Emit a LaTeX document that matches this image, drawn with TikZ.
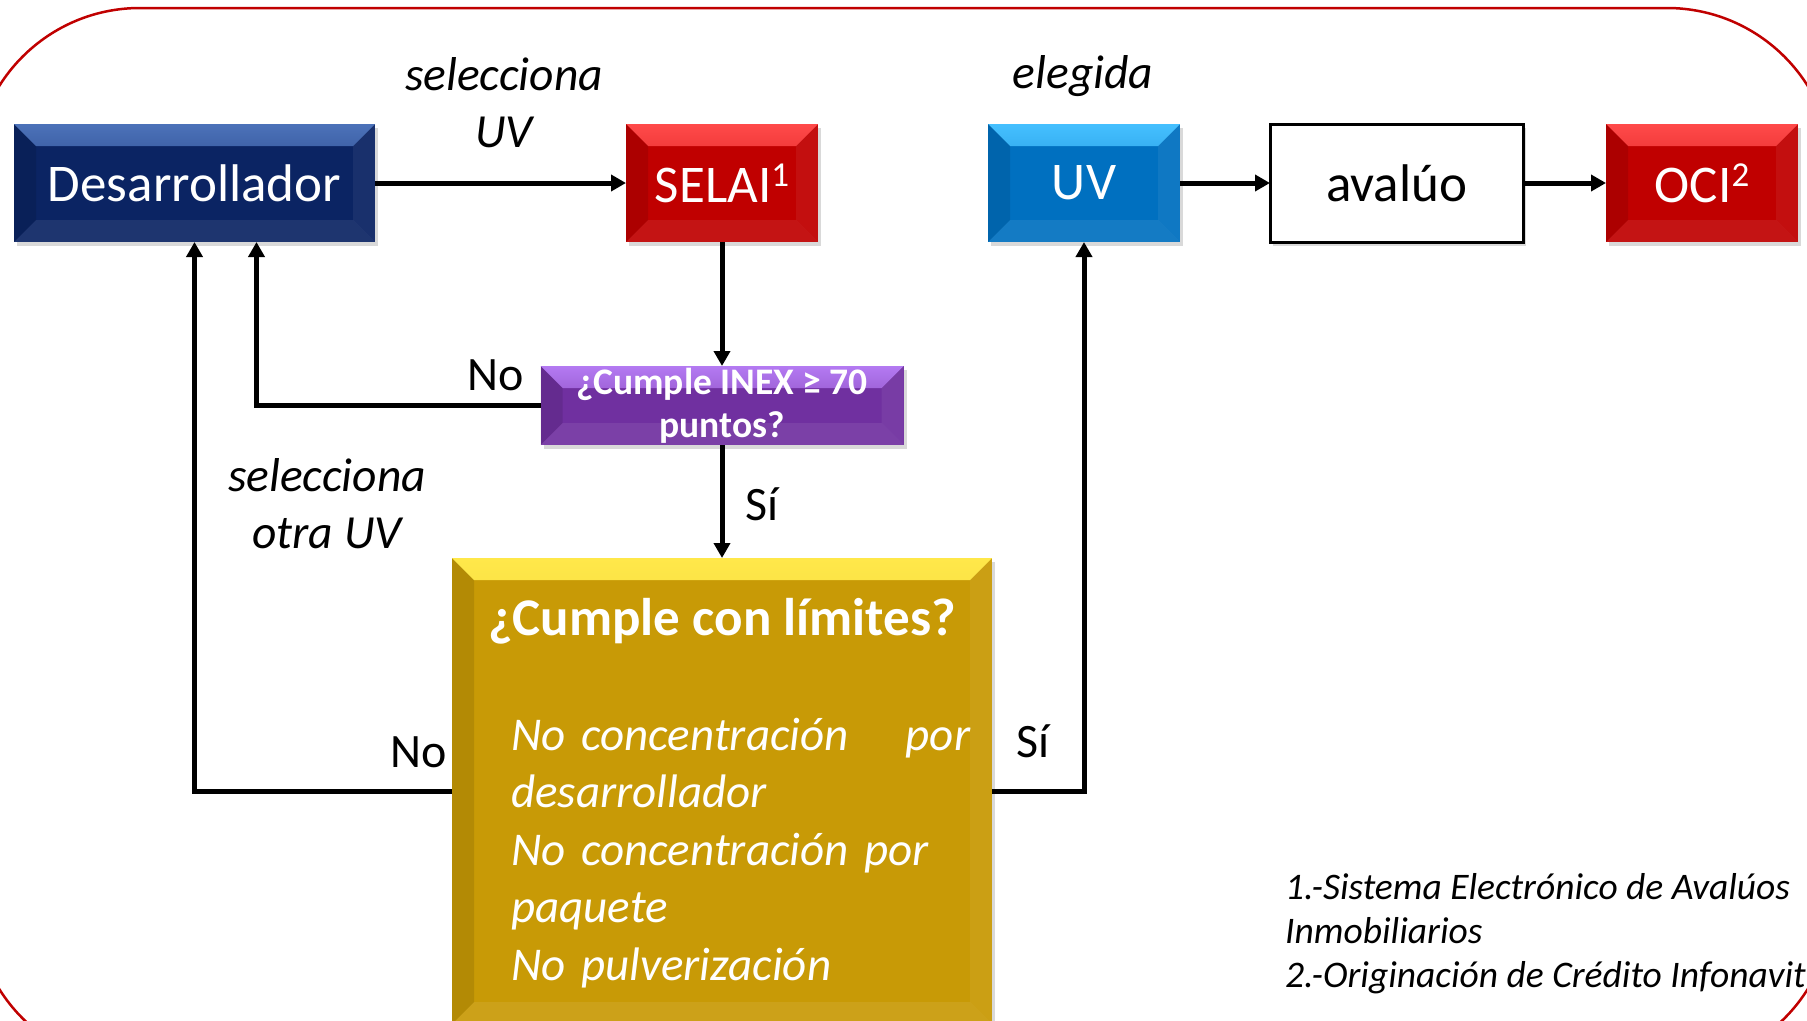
\documentclass[tikz,border=0pt]{standalone}
\usepackage{fontspec}
\setmainfont{Carlito}
\usetikzlibrary{positioning,arrows.meta,shadows}

\definecolor{navyface}{HTML}{0B2463}
\definecolor{navytop}{HTML}{4C72B9}
\definecolor{redface}{HTML}{C00000}
\definecolor{redtop}{HTML}{FF4A4A}
\definecolor{blueface}{HTML}{0070C0}
\definecolor{bluetop}{HTML}{45C0FF}
\definecolor{purpleface}{HTML}{7030A0}
\definecolor{purpletop}{HTML}{B47AF2}
\definecolor{goldface}{HTML}{C89A06}
\definecolor{goldtop}{HTML}{FFE84A}
\definecolor{framered}{HTML}{C00000}

\newcommand{\bw}{22pt}
\newcommand{\supnum}[1]{\raisebox{16pt}{\fontsize{35}{35}\selectfont #1}}

\tikzset{
  bevel/.style 2 args={fill=#1, path picture={
      \shade[top color=#2, bottom color=#1]
        (path picture bounding box.north west) -- (path picture bounding box.north east)
        -- ([xshift=-\bw,yshift=-\bw]path picture bounding box.north east)
        -- ([xshift=\bw,yshift=-\bw]path picture bounding box.north west) -- cycle;
      \fill[white, opacity=0.08]
        (path picture bounding box.south west) -- (path picture bounding box.south east)
        -- ([xshift=-\bw,yshift=\bw]path picture bounding box.south east)
        -- ([xshift=\bw,yshift=\bw]path picture bounding box.south west) -- cycle;
      \fill[black, opacity=0.1]
        (path picture bounding box.north west) -- ([xshift=\bw,yshift=-\bw]path picture bounding box.north west)
        -- ([xshift=\bw,yshift=\bw]path picture bounding box.south west)
        -- (path picture bounding box.south west) -- cycle;
      \fill[white, opacity=0.06]
        (path picture bounding box.north east) -- ([xshift=-\bw,yshift=-\bw]path picture bounding box.north east)
        -- ([xshift=-\bw,yshift=\bw]path picture bounding box.south east)
        -- (path picture bounding box.south east) -- cycle;
  }},
  box/.style={minimum height=118pt, inner sep=0pt, outer sep=0pt, text=white,
    font=\fontsize{53}{62}\selectfont,
    drop shadow={shadow xshift=3pt, shadow yshift=-4pt, opacity=0.3}},
  conn/.style={-{Triangle[length=15pt,width=16pt]}, line width=5pt},
  tag/.style={inner sep=0pt, font=\fontsize{48}{57}\selectfont},
  note/.style={inner sep=0pt, align=center, font=\fontsize{47.5}{56.5}\selectfont\itshape},
}

\begin{document}
\begin{tikzpicture}[x=1pt, y=-1pt]
  \useasboundingbox (0,0) rectangle (1807,1020);
  \draw[framered, line width=2.5pt, rounded corners=166pt] (-26,8) rectangle (1833,1067);

  % top row
  \node (desarrollador) [box, bevel={navyface}{navytop}, minimum width=361pt] at (194.5,183) {Desarrollador};
  \node (selai) [box, bevel={redface}{redtop}, minimum width=192pt, right=251pt of desarrollador] {SELAI\supnum{1}};
  \node (uv) [box, bevel={blueface}{bluetop}, minimum width=192pt, right=170pt of selai] {UV};
  \node (avaluo) [box, fill=white, draw=black, line width=3pt, text=black, minimum width=253pt, right=90pt of uv] {avalúo};
  \node (oci) [box, bevel={redface}{redtop}, minimum width=192pt, right=83pt of avaluo] {OCI\supnum{2}};

  % checks
  \node (inex) [box, bevel={purpleface}{purpletop}, minimum width=363pt, minimum height=79pt,
    align=center, font=\fontsize{37.5}{43}\selectfont\bfseries, below=124pt of selai] {¿Cumple INEX ≥ 70\\puntos?};
  \node (limites) [box, bevel={goldface}{goldtop}, minimum width=540pt, minimum height=466pt, below=113pt of inex] {};
  \node (limtitulo) [inner sep=0pt, anchor=base, text=white, font=\fontsize{53}{62}\selectfont\bfseries]
    at ([yshift=-77pt]limites.north) {¿Cumple con límites?};
  \node (limlista) [inner sep=0pt, anchor=base west, text=white, text width=459pt, align=left,
    font=\fontsize{47}{57.5}\selectfont\itshape] at ([xshift=59pt,yshift=-192pt]limites.north west)
    {No concentración\hfill por\\desarrollador\\No concentración por\\paquete\\No pulverización};

  % connectors
  \draw[conn] (desarrollador) -- (selai);
  \draw[conn] (selai) -- (inex);
  \draw[conn] (inex) -- (limites);
  \draw[conn] (inex.west) -| ([xshift=62pt]desarrollador.south);
  \draw[conn] (limites.west) -| (desarrollador.south);
  \draw[conn] (limites.east) -| (uv.south);
  \draw[conn] (uv) -- (avaluo);
  \draw[conn] (avaluo) -- (oci);

  % labels
  \node (selUV) [note, anchor=base] at (504,147) {selecciona\\UV};
  \node (otraUV) [note, anchor=base] at (327,548) {selecciona\\otra UV};
  \node (elegida) [note, anchor=base] at (1083,88) {elegida};
  \node (noinex) [tag, anchor=base] at (496,390) {No};
  \node (siinex) [tag, anchor=base] at (762,520) {Sí};
  \node (nolim) [tag, anchor=base] at (419,767) {No};
  \node (silim) [tag, anchor=base] at (1033,757) {Sí};

  % footnotes
  \node (notas) [inner sep=0pt, anchor=base west, align=left, font=\fontsize{37.5}{44}\selectfont\itshape] at (1285,987)
    {1.-Sistema Electrónico de Avalúos\\Inmobiliarios\\2.-Originación de Crédito Infonavit};
\end{tikzpicture}
\end{document}
